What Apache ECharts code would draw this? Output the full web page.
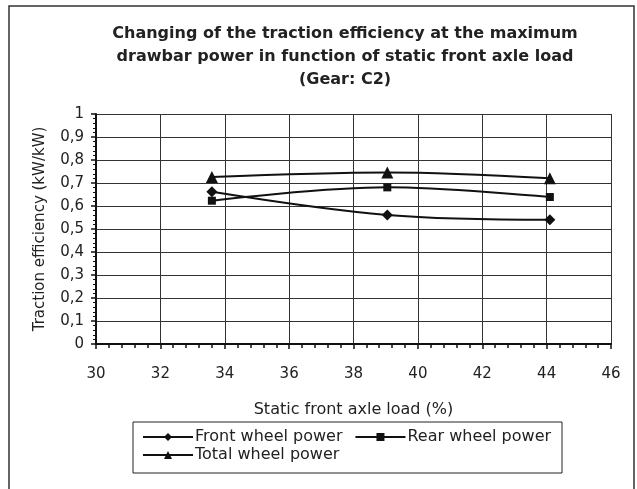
<!DOCTYPE html>
<html>
<head>
<meta charset="utf-8">
<script src="https://cdn.jsdelivr.net/npm/echarts@6/dist/echarts.min.js"></script>
<style>html,body{margin:0;padding:0;background:#fff;}#c{width:637px;height:489px;}</style>
</head>
<body>
<div id="c"></div>
<script>
const frontLoad = [33.6, 39.05, 44.1];
const frontWheel = [0.662, 0.561, 0.540];
const rearWheel = [0.623, 0.681, 0.639];
const totalWheel = [0.726, 0.746, 0.721];
const seriesNames = ['Front wheel power', 'Rear wheel power', 'Total wheel power'];
const titleLines = ['Changing of the traction efficiency at the maximum', 'drawbar power in function of static front axle load', '(Gear: C2)'];

const pair = (xs, ys) => xs.map((x, i) => [x, ys[i]]);
const FONT = '"DejaVu Sans", sans-serif';
const chart = echarts.init(document.getElementById('c'), null, {renderer: 'canvas'});
const lineSeries = (name, data, symbol, size) => ({
  name, type: 'line', data, smooth: 0.35, symbol, symbolSize: size,
  lineStyle: {color: '#111', width: 2}, itemStyle: {color: '#111'}, z: 5
});
chart.setOption({
  backgroundColor: '#fff',
  animation: false,
  title: {
    text: titleLines.join('\n'),
    left: 340, top: 17, textAlign: 'center',
    textStyle: {fontFamily: FONT, fontSize: 16, fontWeight: 'bold', color: '#222', lineHeight: 23}
  },
  graphic: [
    {type: 'rect', shape: {x: 9, y: 6, width: 625, height: 520}, style: {fill: null, stroke: '#333', lineWidth: 1.5}, silent: true},
    {type: 'rect', shape: {x: 133, y: 422, width: 429, height: 51}, style: {fill: null, stroke: '#222', lineWidth: 1}, silent: true}
  ],
  grid: {left: 96, right: 26, top: 114, bottom: 145},
  xAxis: {
    type: 'value', min: 30, max: 46, interval: 2,
    name: 'Static front axle load (%)', nameLocation: 'middle', nameGap: 58,
    nameTextStyle: {fontFamily: FONT, fontSize: 16, color: '#222'},
    axisLine: {lineStyle: {color: '#111', width: 2}},
    axisTick: {show: true, length: 5, lineStyle: {color: '#111', width: 1.5}},
    minorTick: {show: true, splitNumber: 5, length: 4, lineStyle: {color: '#111', width: 1.5}},
    splitLine: {show: true, lineStyle: {color: '#333', width: 1}},
    axisLabel: {fontFamily: FONT, fontSize: 15, color: '#222', margin: 23}
  },
  yAxis: {
    type: 'value', min: 0, max: 1, interval: 0.1,
    name: 'Traction efficiency (kW/kW)', nameLocation: 'middle', nameGap: 48,
    nameTextStyle: {fontFamily: FONT, fontSize: 15, color: '#222'},
    axisLine: {show: true, lineStyle: {color: '#111', width: 2}},
    axisTick: {show: true, length: 5, lineStyle: {color: '#111', width: 1.5}},
    minorTick: {show: true, splitNumber: 5, length: 3, lineStyle: {color: '#111', width: 1}},
    splitLine: {show: true, lineStyle: {color: '#333', width: 1}},
    axisLabel: {fontFamily: FONT, fontSize: 15, color: '#222', margin: 12,
      formatter: v => String(Math.round(v * 10) / 10).replace('.', ',')}
  },
  legend: [
    {data: [seriesNames[0], seriesNames[1]], left: 142, top: 429, itemWidth: 50, itemHeight: 10, itemGap: 12, padding: 0,
      textStyle: {fontFamily: FONT, fontSize: 16, color: '#222', padding: [0, 0, 0, -3]}},
    {data: [seriesNames[2]], left: 142, top: 447, itemWidth: 50, itemHeight: 10, itemGap: 12, padding: 0,
      textStyle: {fontFamily: FONT, fontSize: 16, color: '#222', padding: [0, 0, 0, -3]}}
  ],
  series: [
    lineSeries(seriesNames[0], pair(frontLoad, frontWheel), 'diamond', 11),
    lineSeries(seriesNames[1], pair(frontLoad, rearWheel), 'rect', 8),
    lineSeries(seriesNames[2], pair(frontLoad, totalWheel), 'triangle', 12)
  ]
});
</script>
</body>
</html>
